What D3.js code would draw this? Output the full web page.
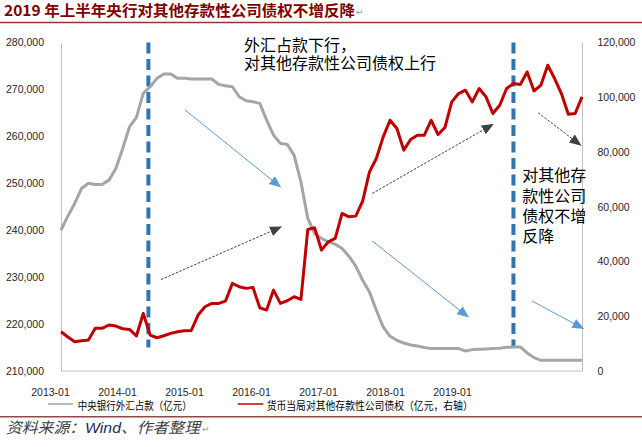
<!DOCTYPE html>
<html><head><meta charset="utf-8">
<script src="https://cdn.jsdelivr.net/npm/d3@7"></script>
<style>
html,body{margin:0;padding:0;background:#fff;}
svg{display:block;}
</style></head>
<body>
<script>
// ---- Data ----
const months = d3.utcMonth.range(new Date(Date.UTC(2013,0,1)), new Date(Date.UTC(2019,5,1))).map(d3.utcFormat("%Y-%m"));
const forexValues = [
 240000,243000,245700,248900,250000,249750,249750,250670,253170,257430,262040,264040,
 269160,270570,272360,273280,273280,272360,272360,272210,272210,272210,272210,271080,
 270790,270570,268440,267590,267370,267030,263470,260270,258500,258290,256000,250310,
 242500,239300,238230,237510,237020,236100,234460,232330,229340,226850,222940,219380,
 217400,216540,215970,215550,215330,214990,214770,214770,214770,214770,214770,214270,
 214560,214630,214700,214770,214840,215050,215120,215120,213840,212850,212280,212280,
 212280,212280,212280,212280,212280];
const claimsValues = [
 14340,12400,10700,11060,11300,15580,15580,16800,16420,15440,15200,12775,
 21050,13140,12150,12880,13750,14350,14700,14800,20440,23470,24700,24700,
 25550,32000,30770,30180,30550,23100,22260,29560,24700,25660,27120,26170,
 51720,52300,44165,47200,48430,57560,56320,56575,62050,72750,77630,85520,
 91600,88580,80670,84570,86140,86140,91600,86390,88950,98300,101360,102570,
 98300,103190,100120,94060,97090,103190,105010,104650,109250,102310,104390,111690,
 106840,101360,93800,94060,100120];
const xTickLabels = ["2013-01","2014-01","2015-01","2016-01","2017-01","2018-01","2019-01"];
const leftTicks = [210000,220000,230000,240000,250000,260000,270000,280000];
const rightTicks = [0,20000,40000,60000,80000,100000,120000];
const seriesNames = ["中央银行外汇占款（亿元）","货币当局对其他存款性公司债权（亿元，右轴）"];
const titleText = "2019 年上半年央行对其他存款性公司债权不增反降";
const sourceParts = ["资料来源：","Wind","、作者整理"];
// vertical dashed markers (month index), spanning left-axis values
const markerIdx = [12.75, 66];
const markerSpan = [280000, 215000];
// annotation arrows in (month index, left-axis value)
const blueArrows = [[[18.1,265600],[32,249240]],[[45.4,237720],[59.4,221510]],[[68.7,224920],[76.2,219040]]];
const darkArrows = [[[14.6,229490],[32.1,240710]],[[45.4,247830],[63,262550]],[[69.6,265030],[75.8,258140]]];
const note1 = {idx:26.7, v:278190, lines:["外汇占款下行，","对其他存款性公司债权上行"]};
const note2 = {idx:67.3, v:250460, lines:["对其他存","款性公司","债权不增","反降"]};

// ---- Layout ----
const W=642,H=447;
const L=61,R=582,T=42.5,B=371;
const svg=d3.select("body").append("svg").attr("width",W).attr("height",H);

const x=d3.scaleLinear().domain([0,months.length-1]).range([L,R]);
const yL=d3.scaleLinear().domain([210000,280000]).range([B,T]);
const yR=d3.scaleLinear().domain([0,120000]).range([B,T]);
const xLab=d3.scalePoint().domain(xTickLabels).range([50,452]);

const defs=svg.append("defs");
function marker(id,color){
  defs.append("marker").attr("id",id).attr("viewBox","0 0 12 10").attr("refX",11).attr("refY",5)
   .attr("markerWidth",12).attr("markerHeight",10).attr("markerUnits","userSpaceOnUse").attr("orient","auto")
   .append("path").attr("d","M0,0 L12,5 L0,10 z").attr("fill",color);
}
marker("ab","#5B9BD5"); marker("ad","#404040");

// title
svg.append("text").attr("x",4).attr("y",16).text(titleText)
  .attr("font-family","'Noto Sans CJK SC'").attr("font-weight","bold").attr("font-size",15)
  .attr("fill","#7F0000").attr("textLength",351).attr("lengthAdjust","spacingAndGlyphs");
svg.append("text").attr("x",356).attr("y",15).text("↵").attr("font-size",9).attr("fill","#999").attr("font-family","DejaVu Sans");
svg.append("line").attr("x1",0).attr("x2",W).attr("y1",22.5).attr("y2",22.5).attr("stroke","#943634").attr("stroke-width",1.5);

// axes
const fnt="'Liberation Sans', Arial, sans-serif";
const gl=svg.append("g").attr("transform",`translate(${L},0)`)
 .call(d3.axisLeft(yL).tickValues(leftTicks).tickFormat(d3.format(",")).tickSize(0).tickPadding(17));
const gr=svg.append("g").attr("transform",`translate(${R},0)`)
 .call(d3.axisRight(yR).tickValues(rightTicks).tickFormat(d3.format(",")).tickSize(0).tickPadding(15.5));
const gb=svg.append("g").attr("transform",`translate(0,${B})`)
 .call(d3.axisBottom(xLab).tickSize(0).tickPadding(17.5));
[gl,gr,gb].forEach(g=>{g.selectAll("text").attr("font-family",fnt).attr("font-size",10.5).attr("fill","#262626");});
gl.select(".domain").attr("stroke","#BFBFBF");
gr.select(".domain").attr("stroke","#BFBFBF");
gb.select(".domain").remove();
svg.append("line").attr("x1",L).attr("x2",R).attr("y1",B).attr("y2",B).attr("stroke","#BFBFBF");

// dashed markers
svg.selectAll(".vmark").data(markerIdx).enter().append("line")
 .attr("x1",d=>x(d)).attr("x2",d=>x(d)).attr("y1",yL(markerSpan[0])).attr("y2",yL(markerSpan[1]))
 .attr("stroke","#2E75B6").attr("stroke-width",4).attr("stroke-dasharray","11,5.5");

// series lines
svg.append("path").datum(forexValues).attr("fill","none").attr("stroke","#A5A5A5").attr("stroke-width",3)
 .attr("stroke-linejoin","round")
 .attr("d",d3.line().x((d,i)=>x(i)).y(d=>yL(d)));
svg.append("path").datum(claimsValues).attr("fill","none").attr("stroke","#C00000").attr("stroke-width",3)
 .attr("stroke-linejoin","round")
 .attr("d",d3.line().x((d,i)=>x(i)).y(d=>yR(d)));

// arrows
svg.selectAll(".ba").data(blueArrows).enter().append("line")
 .attr("x1",d=>x(d[0][0])).attr("y1",d=>yL(d[0][1])).attr("x2",d=>x(d[1][0])).attr("y2",d=>yL(d[1][1]))
 .attr("stroke","#5B9BD5").attr("stroke-width",1).attr("marker-end","url(#ab)");
svg.selectAll(".da").data(darkArrows).enter().append("line")
 .attr("x1",d=>x(d[0][0])).attr("y1",d=>yL(d[0][1])).attr("x2",d=>x(d[1][0])).attr("y2",d=>yL(d[1][1]))
 .attr("stroke","#404040").attr("stroke-width",1).attr("stroke-dasharray","2.5,1.5").attr("marker-end","url(#ad)");

// notes
function note(n,lh){
  const t=svg.append("text").attr("font-family","'Noto Sans CJK SC'").attr("font-size",16).attr("fill","#000");
  n.lines.forEach((s,k)=>t.append("tspan").attr("x",x(n.idx)).attr("y",yL(n.v)+k*lh).text(s));
}
note(note1,18.5); note(note2,20.4);

// legend
const lg=svg.append("g");
lg.append("line").attr("x1",48).attr("x2",73).attr("y1",404).attr("y2",404).attr("stroke","#A5A5A5").attr("stroke-width",1.5);
lg.append("text").attr("x",77.7).attr("y",410).text(seriesNames[0]).attr("font-family","'Noto Sans CJK SC'").attr("font-size",11)
 .attr("fill","#000").attr("textLength",114).attr("lengthAdjust","spacingAndGlyphs");
lg.append("line").attr("x1",237.7).attr("x2",263.3).attr("y1",404).attr("y2",404).attr("stroke","#C00000").attr("stroke-width",1.5);
lg.append("text").attr("x",266.7).attr("y",410).text(seriesNames[1]).attr("font-family","'Noto Sans CJK SC'").attr("font-size",11)
 .attr("fill","#000").attr("textLength",206).attr("lengthAdjust","spacingAndGlyphs");

// source
svg.append("line").attr("x1",0).attr("x2",W).attr("y1",416.7).attr("y2",416.7).attr("stroke","#8E4A4A").attr("stroke-width",1.5);
const st=svg.append("text").attr("x",6).attr("y",433).attr("font-family","'Noto Sans CJK SC'").attr("font-size",15).attr("font-style","italic")
 .attr("textLength",194).attr("lengthAdjust","spacingAndGlyphs");
st.append("tspan").text(sourceParts[0]).attr("fill","#404040");
st.append("tspan").text(sourceParts[1]).attr("fill","#1F2A5A").attr("font-family","'Liberation Sans'");
st.append("tspan").text(sourceParts[2]).attr("fill","#404040");
svg.append("text").attr("x",202).attr("y",432).text("↵").attr("font-size",9).attr("fill","#999").attr("font-family","DejaVu Sans");
</script>
</body></html>
